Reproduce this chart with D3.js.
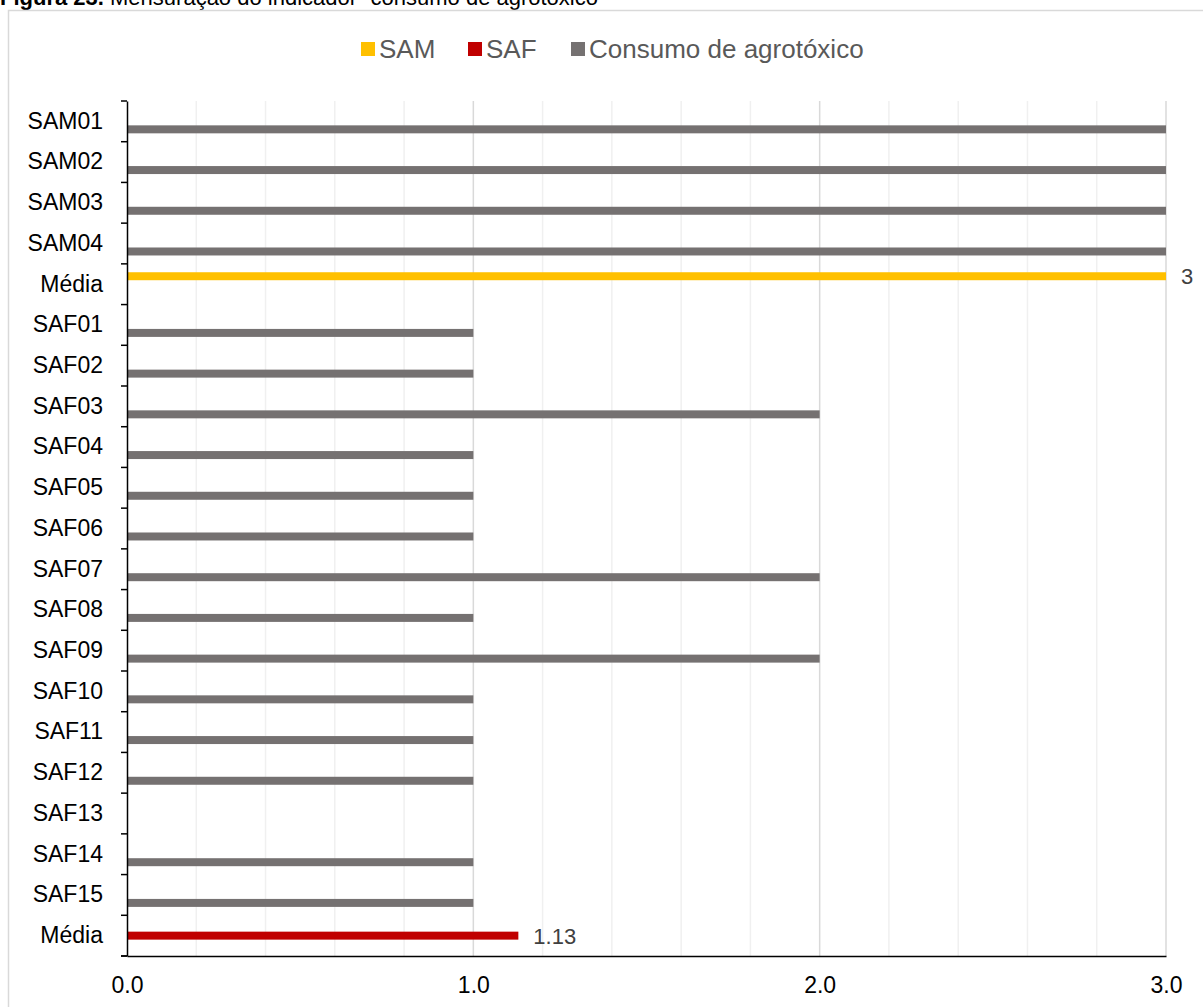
<!DOCTYPE html>
<html>
<head>
<meta charset="utf-8">
<script src="https://cdn.jsdelivr.net/npm/d3@7"></script>
<style>
  html, body { margin: 0; padding: 0; background: #fff; }
  svg { display: block; font-family: "Liberation Sans", Arial, sans-serif; }
</style>
</head>
<body>
<svg id="chart" width="1203" height="1007"></svg>
<script>
// Category labels, top to bottom
const categories = ["SAM01", "SAM02", "SAM03", "SAM04", "Média",
  "SAF01", "SAF02", "SAF03", "SAF04", "SAF05", "SAF06", "SAF07", "SAF08",
  "SAF09", "SAF10", "SAF11", "SAF12", "SAF13", "SAF14", "SAF15", "Média"];

// Series values per category (null = no bar in that series)
const samValues = [null, null, null, null, 3, null, null, null, null, null, null,
  null, null, null, null, null, null, null, null, null, null];
const safValues = [null, null, null, null, null, null, null, null, null, null, null,
  null, null, null, null, null, null, null, null, null, 1.13];
const consumoValues = [3, 3, 3, 3, null, 1, 1, 2, 1, 1, 1, 2, 1, 2, 1, 1, 1, 0, 1, 1, null];

const seriesNames = ["SAM", "SAF", "Consumo de agrotóxico"];
const seriesColors = ["#FFC000", "#C00000", "#757171"];
const xTicks = [0, 1, 2, 3];

const svg = d3.select("#chart");
const FONT = "Liberation Sans, Arial, sans-serif";

// Title, sitting above the chart frame
const title = svg.append("text").attr("x", 0).attr("y", 5).attr("font-size", 22).attr("fill", "#000");
title.append("tspan").attr("font-weight", "bold").text("Figura 23.");
title.append("tspan").text(" Mensuração do indicador \u201cconsumo de agrotóxico\u201d");

// Chart frame
svg.append("rect").attr("x", 8.5).attr("y", 10.5).attr("width", 1230).attr("height", 1030)
  .attr("fill", "none").attr("stroke", "#d9d9d9").attr("stroke-width", 1.5);

const margin = { left: 127, right: 1166, top: 101, bottom: 956 };

const x = d3.scaleLinear().domain([0, 3]).range([margin.left, margin.right]);
const y = d3.scaleBand().domain(d3.range(categories.length)).range([margin.top, margin.bottom]);
const inner = d3.scaleBand().domain(d3.range(3)).range([0, y.bandwidth()]).paddingInner(0).paddingOuter(1.05);

// Gridlines: minor every 0.2, major every 1
const minor = d3.range(0.2, 3.0001, 0.2).filter(v => Math.abs(v - Math.round(v)) > 1e-6);
svg.append("g").selectAll("line").data(minor).join("line")
  .attr("x1", d => x(d)).attr("x2", d => x(d))
  .attr("y1", margin.top).attr("y2", margin.bottom)
  .attr("stroke", "#f0f0f0").attr("stroke-width", 1.5);
svg.append("g").selectAll("line").data(xTicks.slice(1)).join("line")
  .attr("x1", d => x(d)).attr("x2", d => x(d))
  .attr("y1", margin.top).attr("y2", margin.bottom)
  .attr("stroke", "#d9d9d9").attr("stroke-width", 1.5);

// Bars
const series = [samValues, safValues, consumoValues];
series.forEach((vals, s) => {
  const data = vals.map((v, i) => ({ v, i })).filter(d => d.v !== null);
  svg.append("g").selectAll("rect").data(data).join("rect")
    .attr("x", x(0))
    .attr("y", d => y(d.i) + inner(s))
    .attr("width", d => x(d.v) - x(0))
    .attr("height", inner.bandwidth())
    .attr("fill", seriesColors[s]);
});

// Data labels on the average bars
[0, 1].forEach(s => {
  const data = series[s].map((v, i) => ({ v, i })).filter(d => d.v !== null);
  svg.append("g").selectAll("text").data(data).join("text")
    .attr("x", d => x(d.v) + 15)
    .attr("y", d => y(d.i) + inner(s) + inner.bandwidth() / 2)
    .attr("dy", "0.36em")
    .attr("font-size", 22).attr("fill", "#404040")
    .text(d => d3.format("")(d.v));
});

// Y axis
const yAxis = d3.axisLeft(y).tickFormat(i => categories[i]).tickSize(0).tickPadding(24);
const gy = svg.append("g").attr("transform", `translate(${margin.left},0)`).call(yAxis);
gy.select(".domain").attr("stroke", "#000").attr("stroke-width", 1.5);
gy.selectAll("text").attr("font-size", 23).attr("fill", "#000").attr("font-family", FONT);
// Band boundary ticks
const bounds = d3.range(categories.length + 1).map(i => margin.top + i * y.step());
svg.append("g").selectAll("line").data(bounds).join("line")
  .attr("x1", margin.left - 6).attr("x2", margin.left)
  .attr("y1", d => d).attr("y2", d => d)
  .attr("stroke", "#000").attr("stroke-width", 1.5);

// X axis
const xAxis = d3.axisBottom(x).tickValues(xTicks).tickFormat(d3.format(".1f")).tickSize(0).tickPadding(21);
const gx = svg.append("g").attr("transform", `translate(0,${margin.bottom})`).call(xAxis);
gx.select(".domain").attr("stroke", "#000").attr("stroke-width", 1.5);
gx.selectAll("text").attr("font-size", 23).attr("fill", "#000").attr("font-family", FONT);
svg.append("line").attr("x1", margin.left - 6).attr("x2", margin.left)
  .attr("y1", margin.bottom).attr("y2", margin.bottom).attr("stroke", "#000").attr("stroke-width", 1.5);

// Legend
const legendX = [361, 468, 571];
const lg = svg.append("g");
seriesNames.forEach((name, s) => {
  const g = lg.append("g").attr("transform", `translate(${legendX[s]},49)`);
  g.append("rect").attr("x", 0).attr("y", -7).attr("width", 14).attr("height", 14).attr("fill", seriesColors[s]);
  g.append("text").attr("x", 18).attr("y", 0).attr("dy", "0.35em")
    .attr("font-size", 26).attr("fill", "#595959").text(name);
});
</script>
</body>
</html>
